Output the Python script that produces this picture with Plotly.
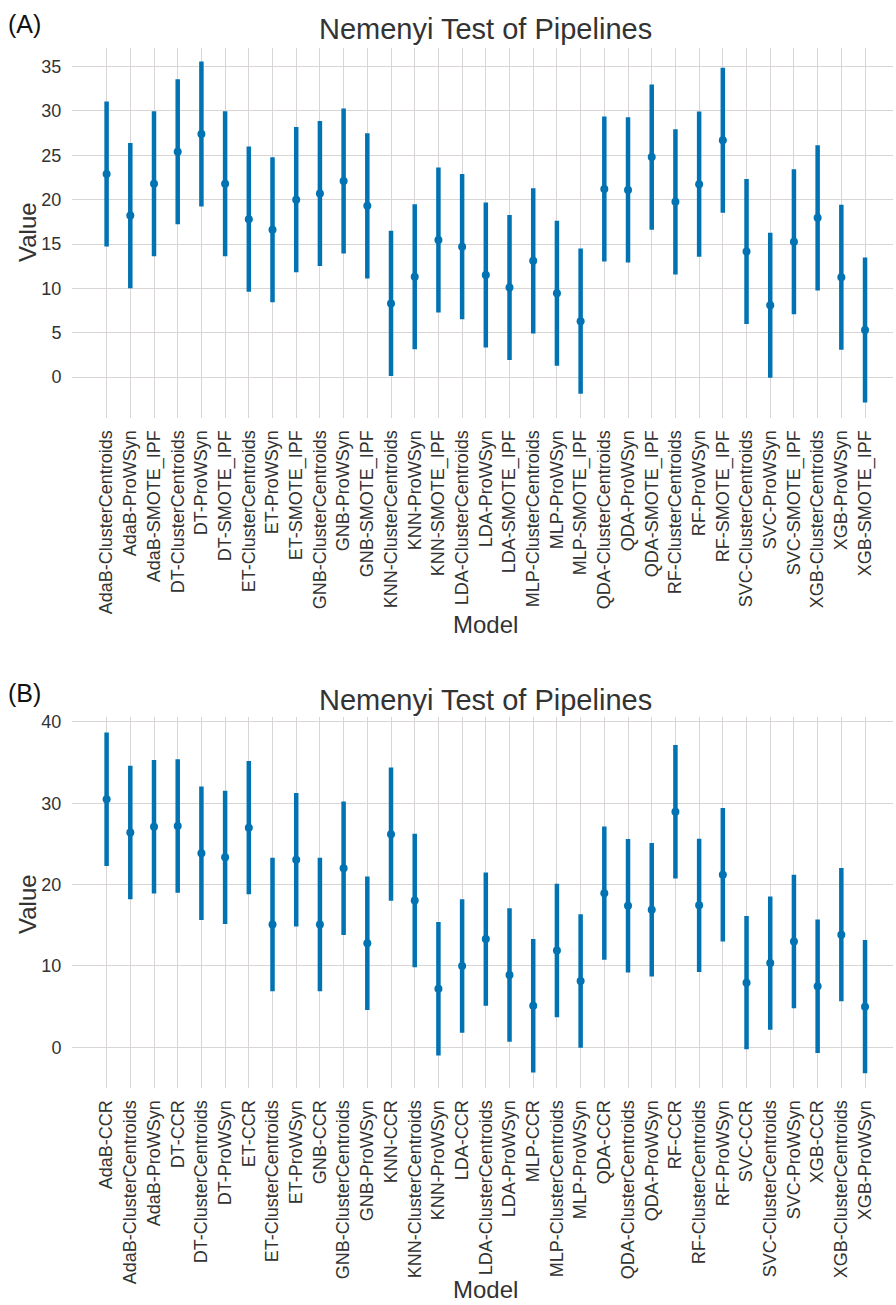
import plotly.graph_objects as go
from plotly.subplots import make_subplots

# ---------------- data ----------------
models_a = [
    "AdaB-ClusterCentroids", "AdaB-ProWSyn", "AdaB-SMOTE_IPF",
    "DT-ClusterCentroids", "DT-ProWSyn", "DT-SMOTE_IPF",
    "ET-ClusterCentroids", "ET-ProWSyn", "ET-SMOTE_IPF",
    "GNB-ClusterCentroids", "GNB-ProWSyn", "GNB-SMOTE_IPF",
    "KNN-ClusterCentroids", "KNN-ProWSyn", "KNN-SMOTE_IPF",
    "LDA-ClusterCentroids", "LDA-ProWSyn", "LDA-SMOTE_IPF",
    "MLP-ClusterCentroids", "MLP-ProWSyn", "MLP-SMOTE_IPF",
    "QDA-ClusterCentroids", "QDA-ProWSyn", "QDA-SMOTE_IPF",
    "RF-ClusterCentroids", "RF-ProWSyn", "RF-SMOTE_IPF",
    "SVC-ClusterCentroids", "SVC-ProWSyn", "SVC-SMOTE_IPF",
    "XGB-ClusterCentroids", "XGB-ProWSyn", "XGB-SMOTE_IPF",
]
mean_rank_a = [
    22.9, 18.2, 21.8,
    25.4, 27.4, 21.8,
    17.8, 16.6, 20.0,
    20.7, 22.1, 19.3,
    8.3, 11.3, 15.45,
    14.7, 11.5, 10.1,
    13.1, 9.45, 6.3,
    21.2, 21.1, 24.8,
    19.75, 21.75, 26.7,
    14.15, 8.1, 15.25,
    17.95, 11.25, 5.3,
]
cd_a = 8.18

models_b = [
    "AdaB-CCR", "AdaB-ClusterCentroids", "AdaB-ProWSyn",
    "DT-CCR", "DT-ClusterCentroids", "DT-ProWSyn",
    "ET-CCR", "ET-ClusterCentroids", "ET-ProWSyn",
    "GNB-CCR", "GNB-ClusterCentroids", "GNB-ProWSyn",
    "KNN-CCR", "KNN-ClusterCentroids", "KNN-ProWSyn",
    "LDA-CCR", "LDA-ClusterCentroids", "LDA-ProWSyn",
    "MLP-CCR", "MLP-ClusterCentroids", "MLP-ProWSyn",
    "QDA-CCR", "QDA-ClusterCentroids", "QDA-ProWSyn",
    "RF-CCR", "RF-ClusterCentroids", "RF-ProWSyn",
    "SVC-CCR", "SVC-ClusterCentroids", "SVC-ProWSyn",
    "XGB-CCR", "XGB-ClusterCentroids", "XGB-ProWSyn",
]
mean_rank_b = [
    30.5, 26.4, 27.1,
    27.2, 23.85, 23.35,
    27.0, 15.1, 23.05,
    15.1, 22.0, 12.8,
    26.2, 18.05, 7.2,
    10.0, 13.3, 8.9,
    5.1, 11.9, 8.15,
    18.95, 17.4, 16.9,
    28.95, 17.45, 21.2,
    7.95, 10.35, 13.0,
    7.5, 13.85, 5.0,
]
cd_b = 8.2

# ---------------- styling ----------------
BLUE = "#0173B2"
GRID = "#DAD5D5"
TXT = "#333333"
FONT = "Liberation Sans, Arial, sans-serif"
W, H = 896, 1305

fig = make_subplots(rows=2, cols=1)


def add_panel(row, models, means, cd):
    fig.add_trace(
        go.Scatter(
            x=models,
            y=means,
            mode="markers",
            marker=dict(color=BLUE, size=8),
            error_y=dict(type="constant", value=cd, color=BLUE,
                         thickness=4.5, width=0),
            showlegend=False,
            hoverinfo="x+y",
        ),
        row=row, col=1,
    )


add_panel(1, models_a, mean_rank_a, cd_a)
add_panel(2, models_b, mean_rank_b, cd_b)

x_dom = [72 / W, 893 / W]
ya_dom = [1 - 418 / H, 1 - 48 / H]
yb_dom = [1 - 1088 / H, 1 - 717 / H]

common_x = dict(
    showgrid=True, gridcolor=GRID, gridwidth=1, zeroline=False,
    showline=False, tickangle=-90, automargin=False,
    tickfont=dict(family=FONT, size=18, color=TXT),
    ticks="outside", ticklen=4, tickcolor="rgba(0,0,0,0)",
    range=[-1.46, 33.18], domain=x_dom,
)
common_y = dict(
    showgrid=True, gridcolor=GRID, gridwidth=1, zeroline=False,
    showline=False, automargin=False,
    tickfont=dict(family=FONT, size=18, color=TXT),
    ticks="outside", ticklen=6, tickcolor="rgba(0,0,0,0)",
)

fig.update_xaxes(**common_x, row=1, col=1)
fig.update_xaxes(**common_x, row=2, col=1)
fig.update_yaxes(**common_y, domain=ya_dom, range=[-4.62, 37.1],
                 tickvals=[0, 5, 10, 15, 20, 25, 30, 35], row=1, col=1)
fig.update_yaxes(**common_y, domain=yb_dom, range=[-5.0, 40.6],
                 tickvals=[0, 10, 20, 30, 40], row=2, col=1)

ann = []
for tag, title_y, tag_y, value_y, model_y, model_anchor in [
    ("(A)", 29, 24, 232, 624, "middle"),
    ("(B)", 700, 693, 904, 1305, "bottom"),
]:
    ann.append(dict(text="Nemenyi Test of Pipelines", x=485 / W, y=1 - title_y / H,
                    xref="paper", yref="paper", showarrow=False,
                    xanchor="center", yanchor="middle",
                    font=dict(family=FONT, size=29, color=TXT)))
    ann.append(dict(text=tag, x=6 / W, y=1 - tag_y / H,
                    xref="paper", yref="paper", showarrow=False,
                    xanchor="left", yanchor="middle",
                    font=dict(family=FONT, size=25, color="#111111")))
    ann.append(dict(text="Value", x=27 / W, y=1 - value_y / H, textangle=-90,
                    xref="paper", yref="paper", showarrow=False,
                    xanchor="center", yanchor="middle",
                    font=dict(family=FONT, size=24, color=TXT)))
    ann.append(dict(text="Model", x=485 / W, y=1 - model_y / H,
                    xref="paper", yref="paper", showarrow=False,
                    xanchor="center", yanchor=model_anchor,
                    font=dict(family=FONT, size=24, color=TXT)))

fig.update_layout(
    width=W, height=H,
    margin=dict(l=0, r=0, t=0, b=0),
    paper_bgcolor="white", plot_bgcolor="white",
    annotations=ann,
    font=dict(family=FONT, color=TXT),
)

fig.write_html("out.html")
